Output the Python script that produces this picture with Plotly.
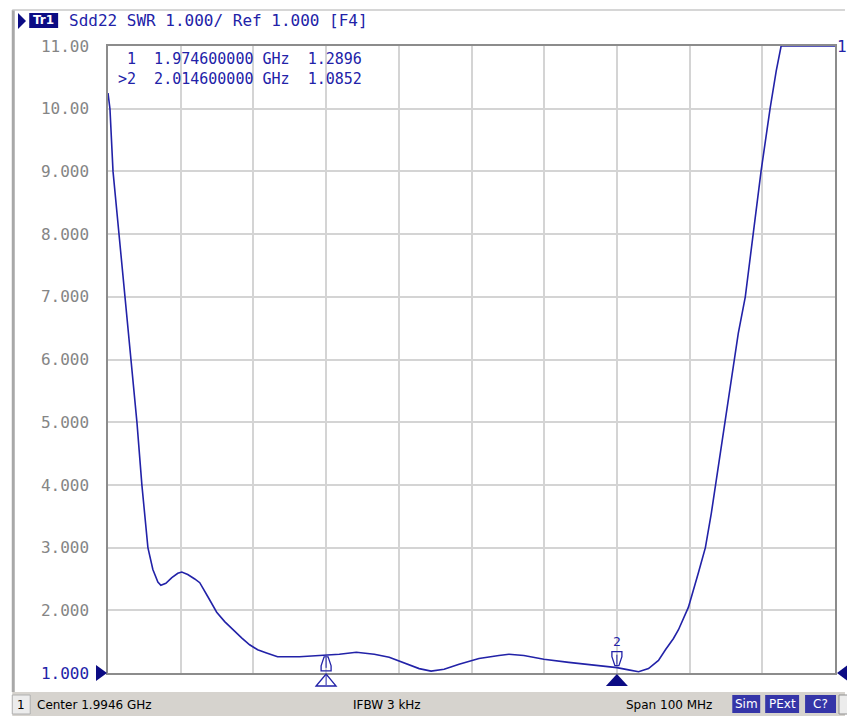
import plotly.graph_objects as go

# ---------------- data ----------------
freq_ghz = [1.94460, 1.94487, 1.94529, 1.94611, 1.94693, 1.94776, 1.94858, 1.94926,
            1.95009, 1.95077, 1.95146, 1.95187, 1.95256, 1.95338, 1.95420, 1.95475,
            1.95557, 1.95653, 1.95722, 1.95832, 1.95955, 1.96065, 1.96175, 1.96298,
            1.96408, 1.96518, 1.96641, 1.96792, 1.97094, 1.97231, 1.97460, 1.97642,
            1.97876, 1.98123, 1.98328, 1.98534, 1.98740, 1.98904, 1.99083, 1.99289,
            1.99563, 1.99837, 1.99975, 2.00180, 2.00455, 2.00798, 2.01140, 2.01460,
            2.01621, 2.01758, 2.01895, 2.02032, 2.02128, 2.02238, 2.02307, 2.02444,
            2.02581, 2.02677, 2.02759, 2.02828, 2.02910, 2.02992, 2.03061, 2.03130,
            2.03226, 2.03335, 2.03445, 2.03568, 2.03651, 2.03719, 2.04460]
swr = [10.25, 10.0, 9.0, 8.0, 7.0, 6.0, 5.0, 4.0,
       3.0, 2.65, 2.45, 2.40, 2.43, 2.52, 2.59, 2.61,
       2.57, 2.50, 2.44, 2.22, 1.97, 1.82, 1.69, 1.56,
       1.45, 1.37, 1.32, 1.26, 1.26, 1.27, 1.2896, 1.30,
       1.33, 1.30, 1.25, 1.16, 1.07, 1.03, 1.06, 1.14,
       1.23, 1.28, 1.30, 1.28, 1.22, 1.17, 1.13, 1.0852,
       1.05, 1.02, 1.07, 1.20, 1.37, 1.55, 1.69, 2.05,
       2.60, 3.00, 3.55, 4.08, 4.70, 5.35, 5.90, 6.42,
       7.00, 8.02, 9.02, 10.01, 10.60, 11.0, 11.0]

marker_ids = ["1", "2"]
marker_freq = [1.9746, 2.0146]
marker_val = [1.2896, 1.0852]

y_tickvals = [1, 2, 3, 4, 5, 6, 7, 8, 9, 10, 11]
y_ticktext = ["1.000", "2.000", "3.000", "4.000", "5.000", "6.000",
              "7.000", "8.000", "9.000", "10.00", "11.00"]

center_ghz = 1.9946
span_mhz = 100
header = "Sdd22 SWR 1.000/ Ref 1.000 [F4]"
status_center = "Center 1.9946 GHz"
status_ifbw = "IFBW 3 kHz"
status_span = "Span 100 MHz"
buttons = ["Sim", "PExt", "C?"]

# ---------------- style ----------------
W, H = 847, 716
L, R, T, B = 108, 837, 46, 673
BLUE = "#2222a8"
NAVY = "#0c0c84"
GRID = "#d4d4d4"
MONO = "DejaVu Sans Mono"
SANS = "DejaVu Sans"
MSIZE = 16

def px(xp):
    return (xp - L) / (R - L)

def py(yp):
    return (B - yp) / (B - T)

x0 = center_ghz - span_mhz / 2000.0
x1 = center_ghz + span_mhz / 2000.0

fig = go.Figure()
fig.add_trace(go.Scatter(x=freq_ghz, y=swr, mode="lines",
                         line=dict(color=BLUE, width=1.6), hoverinfo="skip"))

ticktext = [f'<span style="color:{BLUE}">{t}</span>' if v == 1 else t
            for v, t in zip(y_tickvals, y_ticktext)]

fig.update_layout(
    width=W, height=H,
    margin=dict(l=L, r=W - R, t=T, b=H - B),
    paper_bgcolor="white", plot_bgcolor="white",
    showlegend=False,
    xaxis=dict(range=[x0, x1], tick0=x0, dtick=0.01, showgrid=True,
               gridcolor=GRID, gridwidth=1.5, showticklabels=False, ticks="",
               zeroline=False, showline=True, linecolor="#8c8c8c", linewidth=1.5,
               mirror=True, fixedrange=True),
    yaxis=dict(range=[1, 11], tickvals=y_tickvals, ticktext=ticktext,
               showgrid=True, gridcolor=GRID, gridwidth=1.5, ticks="",
               zeroline=False, showline=True, linecolor="#8c8c8c", linewidth=1.5,
               mirror=True, ticklabelstandoff=14,
               tickfont=dict(family=MONO, size=MSIZE, color="#858585"),
               fixedrange=True),
)

shapes = []
ann = []

# outer frame lines
shapes.append(dict(type="line", xref="paper", yref="paper",
                   x0=px(13), x1=px(13), y0=py(10), y1=py(692),
                   line=dict(color="#a8a8a8", width=3)))
shapes.append(dict(type="line", xref="paper", yref="paper",
                   x0=px(12), x1=px(847), y0=py(10), y1=py(10),
                   line=dict(color="#c8c8c8", width=1.5)))

# header: triangle + Tr1 box + text
shapes.append(dict(type="path", xref="paper", yref="paper", xsizemode="pixel",
                   ysizemode="pixel", xanchor=0, yanchor=1,
                   path="M -90,33 L -82,25 L -90,17 Z",
                   fillcolor=NAVY, line=dict(width=0)))
shapes.append(dict(type="rect", xref="paper", yref="paper",
                   x0=px(29), x1=px(58), y0=py(13), y1=py(28),
                   fillcolor=NAVY, line=dict(width=0)))
ann.append(dict(xref="paper", yref="paper", x=px(43.5), y=py(20.5),
                text="<b>Tr1</b>", showarrow=False, xanchor="center",
                yanchor="middle", font=dict(family=SANS, size=12, color="white")))
ann.append(dict(xref="paper", yref="paper", x=px(67), y=py(21),
                text=header, showarrow=False, xanchor="left", yanchor="middle",
                font=dict(family=MONO, size=MSIZE, color=BLUE)))

# marker table (one text block)
rows = []
for i, (mid, f, v) in enumerate(zip(marker_ids, marker_freq, marker_val)):
    prefix = ">" if i == len(marker_ids) - 1 else " "
    rows.append(f"{prefix}{mid}  {f:.9f} GHz  {v:.4f}".replace(" ", "&nbsp;"))
ann.append(dict(xref="paper", yref="paper", x=px(116), y=py(69.5),
                text="<br>".join(rows), showarrow=False, align="left",
                xanchor="left", yanchor="middle",
                font=dict(family=MONO, size=15, color=BLUE)))

# reference triangles (left & right) at the reference level (bottom, y=1)
shapes.append(dict(type="path", xref="paper", yref="paper", xsizemode="pixel",
                   ysizemode="pixel", xanchor=0, yanchor=0,
                   path="M -12,8 L -1,0 L -12,-8 Z",
                   fillcolor=NAVY, line=dict(width=0)))
shapes.append(dict(type="path", xref="paper", yref="paper", xsizemode="pixel",
                   ysizemode="pixel", xanchor=1, yanchor=0,
                   path="M 2,0 L 14,9 L 14,-9 Z",
                   fillcolor=NAVY, line=dict(width=0)))
ann.append(dict(xref="paper", yref="y", x=1.0, y=11, text="1", showarrow=False,
                xanchor="left", yanchor="middle", xshift=0,
                font=dict(family=MONO, size=MSIZE, color=BLUE)))

# markers on trace and on the bottom axis
for i, (mid, f, v) in enumerate(zip(marker_ids, marker_freq, marker_val)):
    active = (i == len(marker_ids) - 1)
    if active:
        shapes.append(dict(type="path", xref="x", yref="y", xsizemode="pixel",
                           ysizemode="pixel", xanchor=f, yanchor=v,
                           path="M -2,2 L 2,2 L 5,11 L 5,16 L -5,16 L -5,11 Z",
                           line=dict(color=BLUE, width=1.3)))
        shapes.append(dict(type="line", xref="x", yref="y", xsizemode="pixel",
                           ysizemode="pixel", xanchor=f, yanchor=v,
                           x0=0, x1=0, y0=3, y1=13, line=dict(color=BLUE, width=1)))
        ann.append(dict(xref="x", yref="y", x=f, y=v, yshift=26, text=mid,
                        showarrow=False, xanchor="center", yanchor="middle",
                        font=dict(family=MONO, size=13, color=BLUE)))
        shapes.append(dict(type="path", xref="x", yref="paper", xsizemode="pixel",
                           ysizemode="pixel", xanchor=f, yanchor=0,
                           path="M -11,-13 L 0,-1 L 11,-13 Z",
                           fillcolor=NAVY, line=dict(width=0)))
    else:
        shapes.append(dict(type="path", xref="x", yref="y", xsizemode="pixel",
                           ysizemode="pixel", xanchor=f, yanchor=v,
                           path="M -2,-2 L 2,-2 L 5,-11 L 5,-16 L -5,-16 L -5,-11 Z",
                           line=dict(color=BLUE, width=1.3)))
        shapes.append(dict(type="line", xref="x", yref="y", xsizemode="pixel",
                           ysizemode="pixel", xanchor=f, yanchor=v,
                           x0=0, x1=0, y0=-3, y1=-13, line=dict(color=BLUE, width=1)))
        shapes.append(dict(type="path", xref="x", yref="paper", xsizemode="pixel",
                           ysizemode="pixel", xanchor=f, yanchor=0,
                           path="M -10,-13 L 0,-1 L 10,-13 Z",
                           line=dict(color=BLUE, width=1.3)))
        shapes.append(dict(type="line", xref="x", yref="paper", xsizemode="pixel",
                           ysizemode="pixel", xanchor=f, yanchor=0,
                           x0=0, x1=0, y0=-2, y1=-12, line=dict(color=BLUE, width=1)))

# status bar
shapes.append(dict(type="rect", xref="paper", yref="paper",
                   x0=px(12), x1=px(847), y0=py(692), y1=py(716),
                   fillcolor="#d6d3ce", line=dict(width=0)))
shapes.append(dict(type="rect", xref="paper", yref="paper",
                   x0=px(12), x1=px(30), y0=py(695), y1=py(714),
                   fillcolor="#ececec", line=dict(color="#b0b0b0", width=1)))
ann.append(dict(xref="paper", yref="paper", x=px(21), y=py(704.5), text="1",
                showarrow=False, xanchor="center", yanchor="middle",
                font=dict(family=SANS, size=12, color="black")))
ann.append(dict(xref="paper", yref="paper", x=px(35), y=py(704.5),
                text=status_center, showarrow=False, xanchor="left",
                yanchor="middle", font=dict(family=SANS, size=12, color="black")))
ann.append(dict(xref="paper", yref="paper", x=px(352), y=py(704.5),
                text=status_ifbw, showarrow=False, xanchor="left",
                yanchor="middle", font=dict(family=SANS, size=12, color="black")))
ann.append(dict(xref="paper", yref="paper", x=px(625), y=py(704.5),
                text=status_span, showarrow=False, xanchor="left",
                yanchor="middle", font=dict(family=SANS, size=12, color="black")))
btn_px = [(734, 762), (767, 801), (807, 838)]
for (a, b), t in zip(btn_px, buttons):
    shapes.append(dict(type="rect", xref="paper", yref="paper",
                       x0=px(a), x1=px(b), y0=py(695), y1=py(713),
                       fillcolor="#3535a8", line=dict(width=0)))
    ann.append(dict(xref="paper", yref="paper", x=px((a + b) / 2), y=py(704),
                    text=t, showarrow=False, xanchor="center", yanchor="middle",
                    font=dict(family=SANS, size=12, color="white")))
shapes.append(dict(type="rect", xref="paper", yref="paper",
                   x0=px(841), x1=px(850), y0=py(695), y1=py(714),
                   fillcolor="#ececec", line=dict(color="#909090", width=1)))

fig.update_layout(shapes=shapes, annotations=ann)
fig.write_html("out.html", config={"displayModeBar": False},
               post_script="document.body.style.margin='0';"
                           "document.body.style.overflow='hidden';")
